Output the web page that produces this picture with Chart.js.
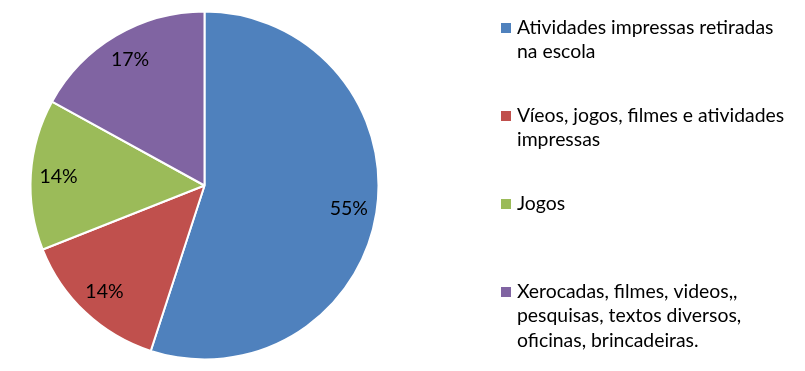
<!DOCTYPE html>
<html>
<head>
<meta charset="utf-8">
<script src="https://cdn.jsdelivr.net/npm/chart.js@4"></script>
<style>
  html, body { margin: 0; padding: 0; background: #fff; }
  #wrap { width: 805px; height: 371px; position: relative; }
</style>
</head>
<body>
<div id="wrap"><canvas id="chart" width="805" height="371"></canvas></div>
<script>
// Categories (one entry per slice, split into the lines shown in the legend)
const categories = [
  ["Atividades impressas retiradas", "na escola"],
  ["Víeos, jogos, filmes e atividades", "impressas"],
  ["Jogos"],
  ["Xerocadas, filmes, videos,,", "pesquisas, textos diversos,", "oficinas, brincadeiras."],
];
// Share of answers, in percent
const values = [55, 14, 14, 17];
const colors = ["#4F81BD", "#C0504D", "#9BBB59", "#8064A2"];

const FONT = "Lato, 'Open Sans', sans-serif";

// Percentage labels inside each slice
const sliceLabels = {
  id: "sliceLabels",
  afterDatasetsDraw(chart) {
    const ctx = chart.ctx;
    const meta = chart.getDatasetMeta(0);
    const total = values.reduce((a, b) => a + b, 0);
    ctx.save();
    ctx.font = "19.5px " + FONT;
    ctx.fillStyle = "#000";
    ctx.textAlign = "center";
    ctx.textBaseline = "middle";
    meta.data.forEach((arc, i) => {
      const { x, y, startAngle, endAngle, outerRadius } = arc.getProps(
        ["x", "y", "startAngle", "endAngle", "outerRadius"], true);
      const mid = (startAngle + endAngle) / 2;
      const r = outerRadius * 0.84;
      const text = Math.round(values[i] / total * 100) + "%";
      ctx.fillText(text, x + Math.cos(mid) * r, y + Math.sin(mid) * r);
    });
    ctx.restore();
  },
};

// Legend on the right, one slot per category
const sideLegend = {
  id: "sideLegend",
  afterDraw(chart) {
    const ctx = chart.ctx;
    const boxX = 501, textX = 517, firstBase = 34, slot = 88, lineH = 24.3;
    ctx.save();
    ctx.font = "19.4px " + FONT;
    ctx.textAlign = "left";
    ctx.textBaseline = "alphabetic";
    categories.forEach((lines, i) => {
      const base = firstBase + i * slot;
      ctx.fillStyle = colors[i];
      ctx.fillRect(boxX, base - 11, 10, 10);
      ctx.fillStyle = "#000";
      lines.forEach((line, j) => ctx.fillText(line, textX, base + j * lineH));
    });
    ctx.restore();
  },
};

new Chart(document.getElementById("chart"), {
  type: "pie",
  data: {
    labels: categories,
    datasets: [{
      data: values,
      backgroundColor: colors,
      borderColor: "#fff",
      borderWidth: 2,
    }],
  },
  options: {
    responsive: false,
    animation: false,
    radius: 174,
    layout: { padding: { left: 20, right: 416, top: 5, bottom: 5 } },
    events: [],
    plugins: {
      legend: { display: false },
      tooltip: { enabled: false },
    },
  },
  plugins: [sliceLabels, sideLegend],
});
</script>
</body>
</html>
